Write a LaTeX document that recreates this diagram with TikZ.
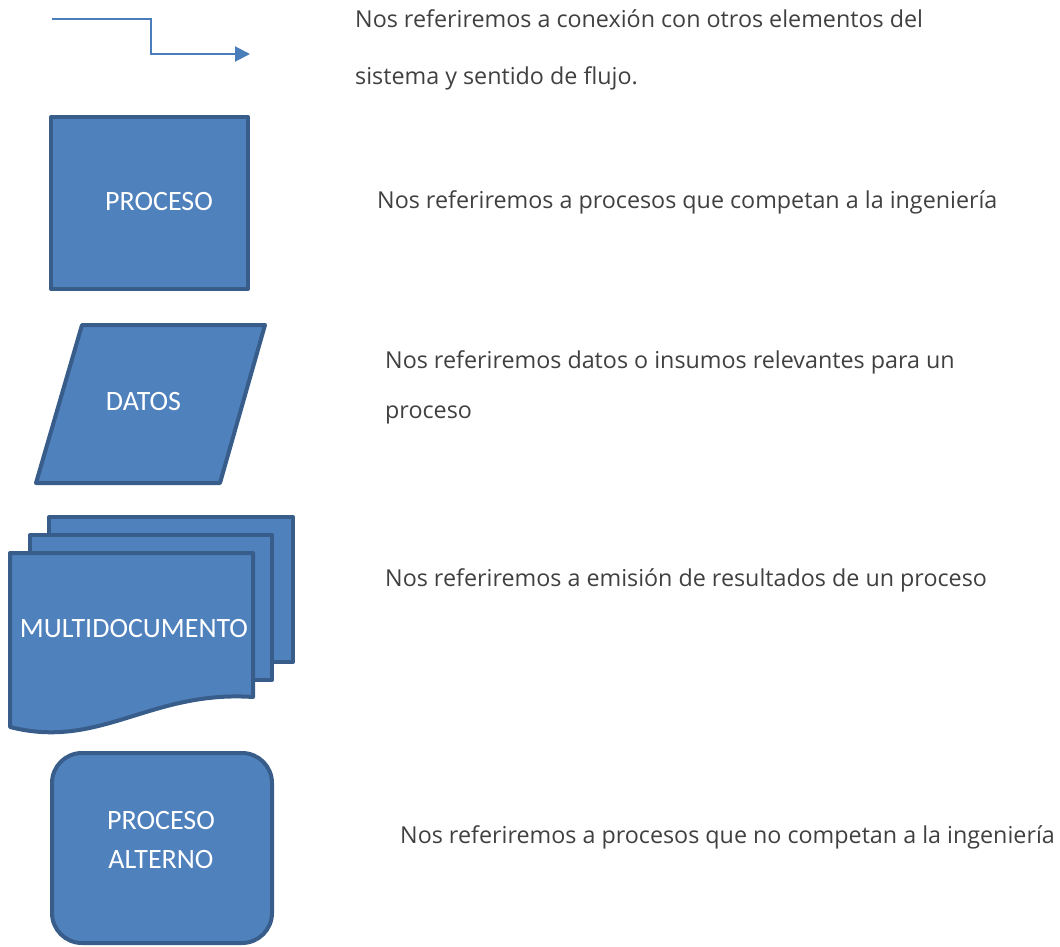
\documentclass[tikz,border=0pt]{standalone}
\usepackage{fontspec}
\setmainfont{Carlito}
\newfontfamily\descfont{Open Sans}
\usetikzlibrary{arrows.meta}
\definecolor{boxfill}{HTML}{4F81BD}
\definecolor{boxline}{HTML}{385D8A}
\definecolor{arrowcol}{HTML}{4A7EBB}
\definecolor{desccol}{HTML}{404040}
\tikzset{
  shapebox/.style={fill=boxfill, draw=boxline, line width=4pt, line join=round},
  lbl/.style={anchor=base, inner sep=0pt, text=white, font=\fontsize{28}{34}\selectfont},
  desc/.style={anchor=base west, inner sep=0pt, text=desccol, font=\descfont\fontsize{23.3}{28}\selectfont},
  flow/.style={draw=arrowcol, line width=2pt, -{Triangle[length=15pt,width=15pt]}}
}
\begin{document}
\begin{tikzpicture}[x=1pt,y=-1pt]
\useasboundingbox (0,0) rectangle (1060,947);
% connector symbol
\coordinate (a1) at (52,19);
\coordinate (a2) at (250,54);
\draw[flow] (a1) -- (151,19) |- (a2);
% proceso
\draw[shapebox] (51,117) rectangle (248,289);
\node[lbl] (proc) at (159,210) {PROCESO};
% datos
\draw[shapebox] (82,325) -- (265,325) -- (220,483) -- (36,483) -- cycle;
\node[lbl] (datos) at (143.5,410) {DATOS};
% multidocumento
\draw[shapebox] (49,517) rectangle (293,662);
\draw[shapebox] (30,535) rectangle (272,680);
\draw[shapebox] (10,553) -- (253,553) -- (253,697) .. controls (150,690) and (100,750) .. (10,727) -- cycle;
\node[lbl] (multi) at (134,637) {MULTIDOCUMENTO};
% proceso alterno
\draw[shapebox, rounded corners=30pt] (52,753) rectangle (272,943);
\node[lbl] (alt1) at (161,829) {PROCESO};
\node[lbl] (alt2) at (161,868) {ALTERNO};
% descriptions
\node[desc] (d1a) at (355,28) {Nos referiremos a conexión con otros elementos del};
\node[desc] (d1b) at (355,85) {sistema y sentido de flujo.};
\node[desc] (d2) at (377,208) {Nos referiremos a procesos que competan a la ingeniería};
\node[desc] (d3a) at (385,368) {Nos referiremos datos o insumos relevantes para un};
\node[desc] (d3b) at (385,418) {proceso};
\node[desc] (d4) at (385,586) {Nos referiremos a emisión de resultados de un proceso};
\node[desc] (d5) at (400,843) {Nos referiremos a procesos que no competan a la ingeniería};
\end{tikzpicture}
\end{document}
